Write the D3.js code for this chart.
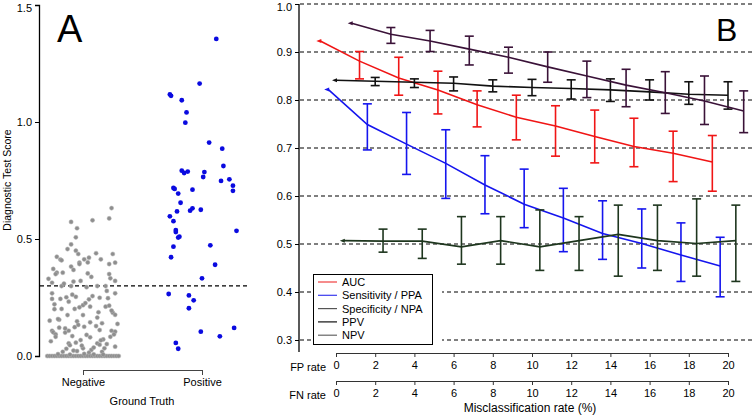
<!DOCTYPE html>
<html><head><meta charset="utf-8">
<script src="https://cdn.jsdelivr.net/npm/d3@7"></script>
<style>body{margin:0;background:#fff}svg{display:block;font-family:"Liberation Sans",Arial,sans-serif}</style>
</head><body>
<script>
// ---------- Panel A data ----------
const groups = ["Negative", "Positive"];
const negJitter = [0.24,0.08,-0.10,0.22,-0.05,-0.06,-0.10,-0.13,-0.06,-0.04,0.11,-0.22,-0.19,-0.18,0.05,0.01,0.15,0.25,0.22,0.27,-0.10,-0.08,-0.03,-0.03,0.04,-0.22,-0.23,-0.17,0.04,0.22,-0.29,-0.02,-0.08,0.23,0.27,-0.18,-0.26,0.12,0.19,-0.10,0.03,0.27,-0.26,-0.19,-0.14,-0.06,0.08,0.05,0.14,0.21,-0.26,-0.12,0.00,-0.24,0.19,0.22,-0.24,-0.18,-0.07,-0.03,0.06,0.25,0.27,-0.13,0.00,0.12,-0.20,-0.28,-0.05,0.06,0.16,0.29,0.11,0.01,-0.07,-0.20,-0.26,-0.25,-0.23,-0.23,-0.15,-0.12,-0.09,0.03,0.06,0.14,0.24,0.23,0.27,-0.02,0.12,0.14,0.20,-0.12,-0.06,-0.14,0.00,0.07,0.18,0.27,-0.17,-0.08,-0.05,0.05,0.16,
 -0.30,-0.28,-0.26,-0.24,-0.22,-0.20,-0.18,-0.16,-0.14,-0.12,-0.10,-0.08,-0.06,-0.04,-0.02,0.00,0.02,0.04,0.06,0.08,0.10,0.12,0.14,0.16,0.18,0.20,0.22,0.24,0.26,0.28,0.30,-0.21,-0.11,0.01,0.09,0.17,
 -0.27,0.17,-0.01,0.26,-0.15,0.09,-0.21,0.13,0.02,-0.09,0.20,-0.16,0.07,-0.25,0.24,-0.04,0.15,-0.11];
const negScore = [0.632,0.580,0.573,0.588,0.546,0.507,0.477,0.457,0.450,0.436,0.439,0.424,0.412,0.409,0.420,0.413,0.413,0.436,0.393,0.399,0.382,0.368,0.399,0.393,0.400,0.356,0.350,0.356,0.353,0.350,0.330,0.321,0.318,0.332,0.321,0.299,0.313,0.299,0.299,0.299,0.294,0.268,0.268,0.244,0.251,0.253,0.256,0.242,0.249,0.247,0.244,0.232,0.217,0.221,0.211,0.215,0.200,0.201,0.201,0.208,0.211,0.185,0.176,0.175,0.175,0.164,0.155,0.151,0.148,0.144,0.140,0.137,0.128,0.125,0.123,0.121,0.108,0.101,0.093,0.082,0.100,0.108,0.085,0.090,0.080,0.111,0.108,0.082,0.104,0.068,0.054,0.048,0.051,0.054,0.057,0.031,0.033,0.026,0.033,0.040,0.018,0.023,0.021,0.014,0.018,
 0,0,0,0,0,0,0,0,0,0,0,0,0,0,0,0,0,0,0,0,0,0,0,0,0,0,0,0,0,0,0,0.008,0.006,0.009,0.007,0.006,
 0.063,0.071,0.044,0.092,0.118,0.036,0.158,0.187,0.226,0.262,0.278,0.309,0.338,0.372,0.194,0.133,0.067,0.046];
const posJitter = [0.12,-0.02,-0.27,-0.26,-0.17,-0.13,-0.14,0.06,0.17,0.18,-0.17,-0.15,-0.12,0.02,0.01,0.16,0.23,0.26,0.26,-0.24,-0.23,-0.20,-0.08,-0.18,-0.21,-0.10,-0.08,-0.01,-0.27,-0.24,-0.22,-0.22,-0.19,-0.20,0.29,-0.24,0.07,-0.26,0.11,0.00,-0.28,-0.11,-0.07,-0.11,-0.01,0.27,0.15,-0.22,-0.20];
const posScore = [1.355,1.164,1.118,1.112,1.093,1.041,0.997,0.912,0.886,0.812,0.792,0.782,0.788,0.786,0.765,0.748,0.755,0.728,0.706,0.718,0.714,0.694,0.711,0.655,0.618,0.621,0.631,0.625,0.597,0.576,0.538,0.530,0.510,0.506,0.535,0.467,0.473,0.422,0.390,0.332,0.265,0.259,0.238,0.204,0.104,0.120,0.084,0.056,0.031];
const cutoff = 0.3;
const scoreTicks = [0.0, 0.5, 1.0, 1.5];

// ---------- Panel B data ----------
const rates = [0,2,4,6,8,10,12,14,16,18,20];
const rateTicks = [0,2,4,6,8,10,12,14,16,18,20];
const metricTicks = [0.3,0.4,0.5,0.6,0.7,0.8,0.9,1.0];
const seriesNames = ["AUC","Sensitivity / PPA","Specificity / NPA","PPV","NPV"];
const aucMean = [0.923,0.881,0.846,0.821,0.790,0.764,0.746,0.724,0.703,0.689,0.671];
const aucLo   = [null,0.844,0.810,0.771,0.744,0.717,0.683,0.669,0.661,0.630,0.610];
const aucHi   = [null,0.901,0.889,0.860,0.819,0.810,0.788,0.779,0.762,0.735,0.726];
const sensMean = [0.822,0.749,0.708,0.668,0.623,0.583,0.554,0.522,0.501,0.477,0.454];
const sensLo   = [null,0.696,0.645,0.595,0.563,0.534,0.484,0.468,0.450,0.422,0.390];
const sensHi   = [null,0.792,0.774,0.738,0.684,0.656,0.616,0.590,0.573,0.544,0.514];
const specMean = [0.841,0.839,0.837,0.835,0.829,0.826,0.824,0.821,0.817,0.812,0.810];
const specLo   = [null,0.830,0.826,0.819,0.817,0.809,0.802,0.797,0.800,0.791,0.781];
const specHi   = [null,0.847,0.844,0.848,0.842,0.843,0.842,0.844,0.842,0.838,0.838];
const ppvMean = [0.507,0.506,0.506,0.494,0.507,0.494,0.507,0.520,0.507,0.501,0.507];
const ppvLo   = [null,0.483,0.470,0.458,0.458,0.445,0.445,0.433,0.445,0.433,0.422];
const ppvHi   = [null,0.531,0.531,0.557,0.557,0.571,0.557,0.581,0.581,0.594,0.581];
const npvMean = [0.960,0.937,0.923,0.906,0.889,0.869,0.850,0.831,0.815,0.798,0.777];
const npvLo   = [null,0.918,0.901,0.873,0.856,0.837,0.805,0.786,0.772,0.749,0.732];
const npvHi   = [null,0.951,0.945,0.933,0.910,0.900,0.881,0.864,0.859,0.850,0.819];
const seriesColors = ["#f01515","#1515ee","#111111","#1e361e","#3a1238"];
const legendColors = ["#f04040","#3a3aee","#555555","#111111","#666666"];
const seriesOffsets = [-0.8,-0.4,0,0.4,0.8];

// ---------- drawing ----------
const W = 752, H = 415;
const svg = d3.select("body").append("svg").attr("width", W).attr("height", H);
const font = 11;

// Panel A
const xA = d3.scaleLinear().domain([1, 2]).range([83, 202]);
const yA = d3.scaleLinear().domain([0, 1.5]).range([356, 5]);
const gA = svg.append("g");

gA.append("line").attr("x1", 40).attr("x2", 248).attr("y1", yA(cutoff)).attr("y2", yA(cutoff))
  .attr("stroke", "#000").attr("stroke-width", 1.2).attr("stroke-dasharray", "4,3");

const negData = negScore.map((v, i) => ({x: 1 + negJitter[i], y: v}));
const posData = posScore.map((v, i) => ({x: 2 + posJitter[i], y: v}));
gA.selectAll("circle.neg").data(negData).join("circle").attr("class", "neg")
  .attr("cx", d => xA(d.x)).attr("cy", d => yA(d.y)).attr("r", 2.1)
  .attr("fill", "#8e8e8e").attr("stroke", "#b5b5b5").attr("stroke-width", 0.5);
gA.selectAll("circle.pos").data(posData).join("circle").attr("class", "pos")
  .attr("cx", d => xA(d.x)).attr("cy", d => yA(d.y)).attr("r", 2.4)
  .attr("fill", "#0a0ae0");

const axA = gA.append("g").attr("transform", "translate(39,0)")
  .call(d3.axisLeft(yA).tickValues(scoreTicks).tickFormat(d3.format(".1f")).tickSize(4).tickPadding(3));
axA.select(".domain").attr("stroke-width", 1.3);
axA.selectAll("text").attr("font-size", font).attr("font-family", "Liberation Sans, Arial");
axA.selectAll(".tick text").filter(d => d === 1.5).attr("dy", "0.6em");

gA.append("text").attr("transform", "translate(11,180) rotate(-90)").attr("text-anchor", "middle")
  .attr("font-size", 10.5).text("Diagnostic Test Score");

const axAx = gA.append("g").attr("transform", "translate(0,370)")
  .call(d3.axisBottom(d3.scalePoint().domain(groups).range([83, 202])).tickSize(5).tickPadding(3).tickSizeOuter(0));
axAx.select(".domain").attr("stroke", "#444");
axAx.selectAll("line").attr("stroke", "#444");
axAx.selectAll("text").attr("font-size", font).attr("font-family", "Liberation Sans, Arial");
gA.append("text").attr("x", 142).attr("y", 405).attr("text-anchor", "middle").attr("font-size", font).text("Ground Truth");
gA.append("text").attr("x", 57).attr("y", 42).attr("font-size", 38).text("A");

// Panel B
const xB = d3.scaleLinear().domain([0, 20]).range([336, 728]);
const yB = d3.scaleLinear().domain([0.3, 1.0]).range([340, 4]);
const gB = svg.append("g");

gB.selectAll("line.grid").data(metricTicks).join("line").attr("class", "grid")
  .attr("x1", 300).attr("x2", W).attr("y1", d => yB(d)).attr("y2", d => yB(d))
  .attr("stroke", "#000").attr("stroke-width", 1.1).attr("stroke-dasharray", "4,3");

const series = [
  [aucMean, aucLo, aucHi], [sensMean, sensLo, sensHi], [specMean, specLo, specHi],
  [ppvMean, ppvLo, ppvHi], [npvMean, npvLo, npvHi]
];
const line = d3.line().x(d => xB(d.x)).y(d => yB(d.m));
series.forEach((s, k) => {
  const pts = rates.map((r, i) => ({x: r + seriesOffsets[k], m: s[0][i], lo: s[1][i], hi: s[2][i]}));
  const col = seriesColors[k];
  const g = gB.append("g");
  g.append("path").datum(pts).attr("d", line).attr("fill", "none").attr("stroke", col).attr("stroke-width", 1.6);
  const eb = pts.filter(d => d.lo !== null);
  g.selectAll("line.v").data(eb).join("line").attr("x1", d => xB(d.x)).attr("x2", d => xB(d.x))
    .attr("y1", d => yB(d.lo)).attr("y2", d => yB(d.hi)).attr("stroke", col).attr("stroke-width", 1.6);
  g.selectAll("line.t").data(eb).join("line").attr("x1", d => xB(d.x) - 4.5).attr("x2", d => xB(d.x) + 4.5)
    .attr("y1", d => yB(d.hi)).attr("y2", d => yB(d.hi)).attr("stroke", col).attr("stroke-width", 1.6);
  g.selectAll("line.b").data(eb).join("line").attr("x1", d => xB(d.x) - 4.5).attr("x2", d => xB(d.x) + 4.5)
    .attr("y1", d => yB(d.lo)).attr("y2", d => yB(d.lo)).attr("stroke", col).attr("stroke-width", 1.6);
  const p0 = pts[0];
  g.append("path").attr("d", `M${xB(p0.x) - 4},${yB(p0.m)} L${xB(p0.x) + 1},${yB(p0.m) - 2} L${xB(p0.x) + 1},${yB(p0.m) + 2} Z`)
    .attr("fill", col);
});

const axB = gB.append("g").attr("transform", "translate(299,0)")
  .call(d3.axisLeft(yB).tickValues(metricTicks).tickFormat(d3.format(".1f")).tickSize(4).tickPadding(3).tickSizeOuter(0));
axB.select(".domain").attr("d", "M0,4V352").attr("stroke-width", 1.3);
axB.selectAll("text").attr("font-size", font).attr("font-family", "Liberation Sans, Arial");
axB.selectAll(".tick text").filter(d => d === 1.0).attr("dy", "0.55em");

// Legend
const lg = gB.append("g");
lg.append("rect").attr("x", 313).attr("y", 274).attr("width", 129).attr("height", 71).attr("fill", "#fff");
lg.append("rect").attr("x", 313.5).attr("y", 274.5).attr("width", 119).attr("height", 70).attr("fill", "#fff")
  .attr("stroke", "#000").attr("stroke-width", 1);
seriesNames.forEach((n, i) => {
  const yy = 282 + i * 13.3;
  lg.append("line").attr("x1", 318).attr("x2", 337).attr("y1", yy).attr("y2", yy).attr("stroke", legendColors[i]).attr("stroke-width", 1.2);
  lg.append("text").attr("x", 342).attr("y", yy + 4).attr("font-size", font).text(n);
});

// Two x axes
[["FP rate", 353], ["FN rate", 381]].forEach(([lab, yy]) => {
  const ax = gB.append("g").attr("transform", `translate(0,${yy})`)
    .call(d3.axisBottom(xB).tickValues(rateTicks).tickSize(4).tickPadding(4).tickSizeOuter(0));
  ax.select(".domain").attr("stroke", "#333");
  ax.selectAll("line").attr("stroke", "#333");
  ax.selectAll("text").attr("font-size", font).attr("font-family", "Liberation Sans, Arial");
  gB.append("text").attr("x", 326).attr("y", yy + 18).attr("text-anchor", "end").attr("font-size", font).text(lab);
});
gB.append("text").attr("x", 530).attr("y", 412).attr("text-anchor", "middle").attr("font-size", 12).text("Misclassification rate (%)");
gB.append("text").attr("x", 716).attr("y", 41).attr("font-size", 32).text("B");
</script>
</body></html>
